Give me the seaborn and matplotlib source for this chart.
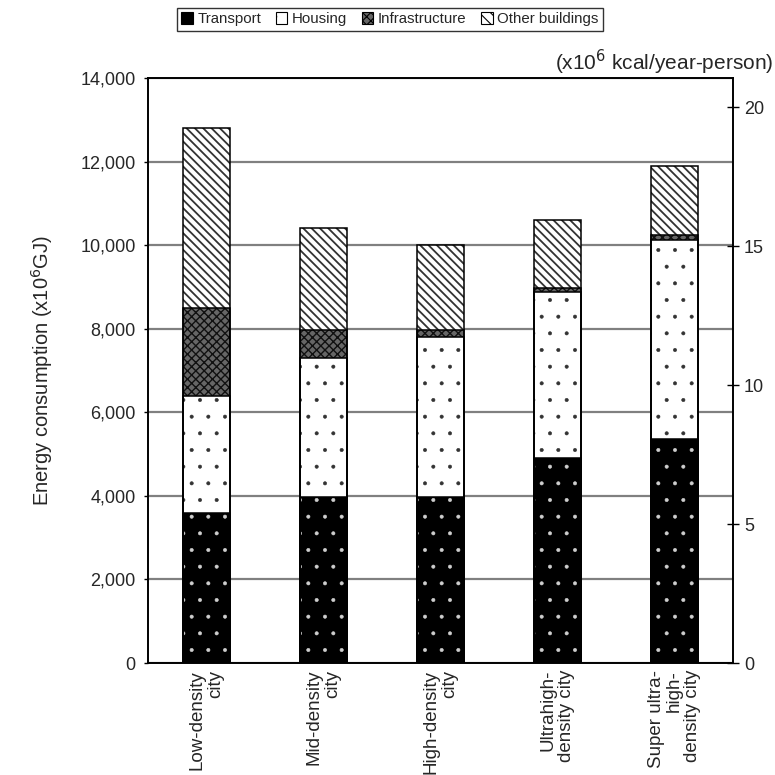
import matplotlib
matplotlib.use("Agg")
import matplotlib.pyplot as plt
import seaborn as sns
import pandas as pd
import numpy as np
from matplotlib.patches import Patch

categories = ["Low-density\ncity", "Mid-density\ncity", "High-density\ncity",
              "Ultrahigh-\ndensity city", "Super ultra-\nhigh-\ndensity city"]
transport = [3600, 3980, 3980, 4900, 5350]
housing = [2800, 3330, 3820, 3980, 4770]
infrastructure = [2100, 670, 170, 90, 120]
other_buildings = [4300, 2420, 2030, 1630, 1660]
series_names = ["Transport", "Housing", "Infrastructure", "Other buildings"]
left_ticks = [0, 2000, 4000, 6000, 8000, 10000, 12000, 14000]
right_ticks = [0, 5, 10, 15, 20]

sns.set_theme(style="white")
plt.rcParams["font.family"] = ["Liberation Sans", "DejaVu Sans"]

fig = plt.figure(figsize=(7.75, 7.75), dpi=100)
ax = fig.add_axes([148/775, 1-663/775, 585/775, 585/775])

df = pd.DataFrame({"cat": categories, "Transport": transport, "Housing": housing,
                   "Infrastructure": infrastructure, "Other buildings": other_buildings})
df["c1"] = df["Transport"]
df["c2"] = df["c1"] + df["Housing"]
df["c3"] = df["c2"] + df["Infrastructure"]
df["c4"] = df["c3"] + df["Other buildings"]

styles = {
    "c4": dict(face="white", hatch="\\\\\\\\", hc="#333333", hlw=1.3),
    "c3": dict(face="#666666", hatch="xxxx", hc="#111111", hlw=1.0),
    "c2": dict(face="white", hatch=".", hc="#333333", hlw=0.4),
    "c1": dict(face="black", hatch=".", hc="#cfcfcf", hlw=0.4),
}
W = 0.41
for col in ["c4", "c3", "c2", "c1"]:
    st = styles[col]
    plt.rcParams["hatch.linewidth"] = st["hlw"]
    n_before = len(ax.patches)
    sns.barplot(data=df, x="cat", y=col, color=st["face"], saturation=1, width=W,
                errorbar=None, hatch=st["hatch"], edgecolor=st["hc"], linewidth=0,
                ax=ax, zorder=2)
    for p in ax.patches[n_before:]:
        if hasattr(p, "set_hatch_linewidth"):
            p.set_hatch_linewidth(st["hlw"])
    sns.barplot(data=df, x="cat", y=col, color="white", fill=False, saturation=1,
                width=W, errorbar=None, edgecolor="black", linewidth=1.1, ax=ax, zorder=3)

ax.set_xlim(-0.5, 4.5)
ax.set_ylim(0, 14000)
ax.set_yticks(left_ticks)
ax.set_yticklabels([f"{v:,}" for v in left_ticks], fontsize=13)
ax.yaxis.grid(True, color="#808080", linewidth=1.6)
ax.xaxis.grid(False)
ax.set_axisbelow(True)
ax.set_xlabel("")
ax.set_ylabel("Energy consumption (x10$^6$GJ)", fontsize=14.5, labelpad=18)
for s in ax.spines.values():
    s.set_color("black")
    s.set_linewidth(1.2)
ax.tick_params(axis="y", direction="out", length=3, width=1, color="black", pad=6)
ax.set_xticks(range(len(categories)))
ax.set_xticklabels(categories, rotation=90, fontsize=13.5, multialignment="right",
                   linespacing=1.1)
ax.tick_params(axis="x", which="major", length=0, pad=5)
ax.set_xticks([0.5, 1.5, 2.5, 3.5], minor=True)
ax.tick_params(axis="x", which="minor", direction="in", length=7, width=1, color="black")

ax2 = ax.twinx()
ax2.set_ylim(0, 21.05)
ax2.set_yticks(right_ticks)
ax2.set_yticklabels([str(v) for v in right_ticks], fontsize=13)
ax2.tick_params(axis="y", direction="inout", length=8, width=1, color="black", pad=4)
ax2.grid(False)
for s in ax2.spines.values():
    s.set_color("black")
    s.set_linewidth(1.2)

fig.text(0.998, 1-62/775, "(x10$^6$ kcal/year-person)", ha="right", va="center",
         fontsize=15)

plt.rcParams["hatch.linewidth"] = 0.8
handles = [
    Patch(facecolor="black", edgecolor="black", linewidth=0.8),
    Patch(facecolor="white", edgecolor="black", hatch=".", linewidth=0.8),
    Patch(facecolor="#666666", edgecolor="black", hatch="xxxx", linewidth=0.8),
    Patch(facecolor="white", edgecolor="black", hatch="\\\\\\", linewidth=0.8),
]
leg = fig.legend(handles, series_names, loc="center", bbox_to_anchor=(390/775, 1-19/775),
                 ncol=4, frameon=True, fancybox=False, fontsize=10.8, handlelength=0.75,
                 handleheight=0.8, handletextpad=0.3, columnspacing=1.0,
                 borderpad=0.3, borderaxespad=0)
leg.get_frame().set_edgecolor("black")
leg.get_frame().set_linewidth(1.0)

fig.savefig("out.png", dpi=100)
